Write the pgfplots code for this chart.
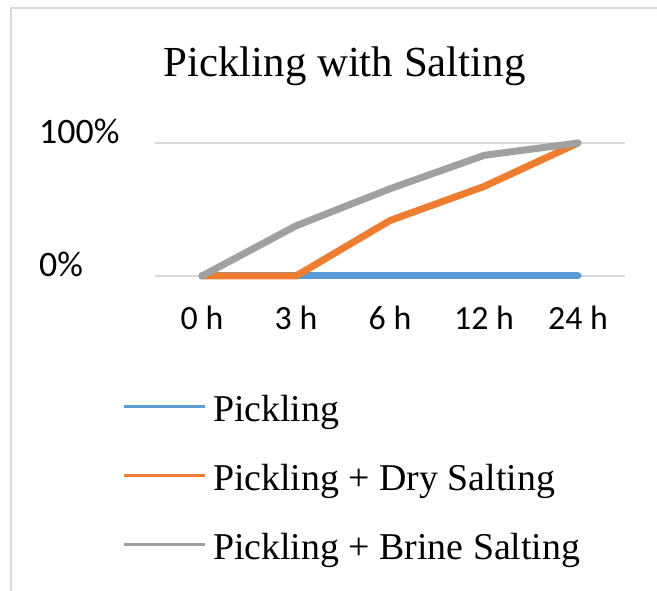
\documentclass[border=0pt]{standalone}
\usepackage{fontspec}
\setmainfont{Liberation Serif}
\newfontfamily\calibri{Carlito}
\newfontfamily\titlefont{Liberation Serif}
\usepackage{pgfplots}
\pgfplotsset{compat=1.18}
\definecolor{cblue}{HTML}{5B9BD5}
\definecolor{corange}{HTML}{ED7D31}
\definecolor{cgray}{HTML}{A0A0A0}
\definecolor{cgrid}{HTML}{D9D9D9}
\begin{document}
\begin{tikzpicture}[x=1bp,y=1bp]
\useasboundingbox (0,0) rectangle (657,591);
\draw[color=cgrid, line width=1.5bp] (11,-5) -- (11,583) -- (665,583);
\node[anchor=base, inner sep=0pt, font=\titlefont\fontsize{43}{47}\selectfont] at (344.5,514.3) {Pickling with Salting};
\begin{axis}[
  at={(155bp,315bp)}, anchor=south west,
  scale only axis, width=470bp, height=133bp,
  xmin=-0.5, xmax=4.5, ymin=0, ymax=1,
  clip=false,
  axis line style={draw=none},
  major tick style={draw=none},
  ymajorgrids, grid style={color=cgrid, line width=1.5bp},
  ytick={0,1}, yticklabels={0\%,100\%},
  xtick={0,1,2,3,4}, xticklabels={0 h,3 h,6 h,12 h,24 h},
  yticklabel style={font=\calibri\fontsize{36}{40}\selectfont, anchor=west, inner sep=0pt, xshift=-116bp, yshift=11.5bp},
  xticklabel style={font=\calibri\fontsize{34}{37}\selectfont, anchor=north, inner sep=0pt, yshift=-30bp},
  legend cell align=left,
  legend image code/.code={\draw[#1, line width=3bp, line cap=butt] (0bp,14.7bp) -- (81bp,14.7bp);},
  legend style={at={(axis description cs:-0.0702,-0.9075)}, anchor=north west, draw=none, fill=none, inner sep=0pt, outer sep=0pt, row sep=36bp, column sep=7bp, font=\fontsize{38}{41}\selectfont, nodes={inner sep=0pt, text height=25bp, text depth=8bp, anchor=base west}},
  every axis plot/.append style={line width=7bp, line cap=round, line join=round, mark=none},
]
\addplot[cblue] coordinates {(0,0) (1,0) (2,0) (3,0) (4,0)};
\addlegendentry{Pickling}
\addplot[corange] coordinates {(0,0) (1,0) (2,0.417) (3,0.673) (4,1.0)};
\addlegendentry{Pickling + Dry Salting}
\addplot[cgray] coordinates {(0,0) (1,0.377) (2,0.656) (3,0.907) (4,1.0)};
\addlegendentry{Pickling + Brine Salting}
\end{axis}
\end{tikzpicture}
\end{document}
